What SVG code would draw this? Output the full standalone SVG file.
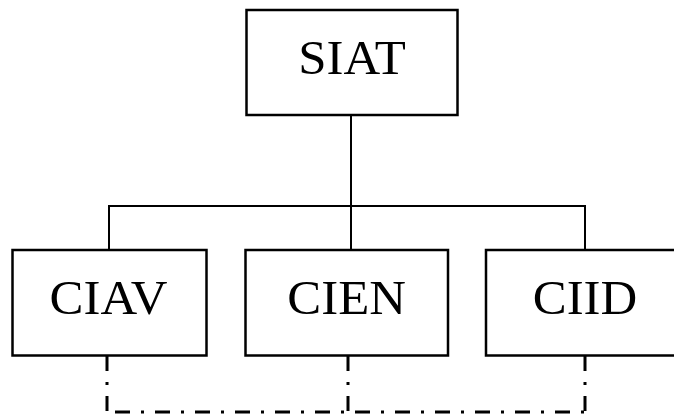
<svg xmlns="http://www.w3.org/2000/svg" width="674" height="417" viewBox="0 0 674 417">
<style>
.box{fill:#fff;stroke:#000;stroke-width:2.5}
.lbl{font-family:"Liberation Serif","Times New Roman",serif;font-size:48px;fill:#000;text-anchor:middle}
.solid{fill:none;stroke:#000;stroke-width:2}
.dd{fill:none;stroke:#000;stroke-width:3;stroke-dasharray:15 11 3 11}
</style>
<rect width="674" height="417" fill="#fff"/>
<g id="connectors">
<path class="solid" d="M351,115 V250"/>
<path class="solid" d="M109,250 V206 H585 V250"/>
<path class="dd" d="M107,356 V412"/>
<path class="dd" d="M348,356 V412"/>
<path class="dd" d="M585,356 V412"/>
<path class="dd" style="stroke-dashoffset:32" d="M107,412 H585"/>
</g>
<g id="SIAT">
<rect class="box" x="246.5" y="10" width="211" height="105"/>
<text class="lbl" transform="translate(352,74) scale(1.06,1)">SIAT</text>
</g>
<g id="CIAV">
<rect class="box" x="12.5" y="250" width="194" height="105.5"/>
<text class="lbl" transform="translate(108.5,314) scale(1.06,1)">CIAV</text>
</g>
<g id="CIEN">
<rect class="box" x="245.5" y="250" width="202.5" height="105.5"/>
<text class="lbl" transform="translate(346.7,314) scale(1.06,1)">CIEN</text>
</g>
<g id="CIID">
<rect class="box" x="486" y="250" width="200" height="105.5"/>
<text class="lbl" transform="translate(585,313.5) scale(1.06,1)">CIID</text>
</g>
</svg>
